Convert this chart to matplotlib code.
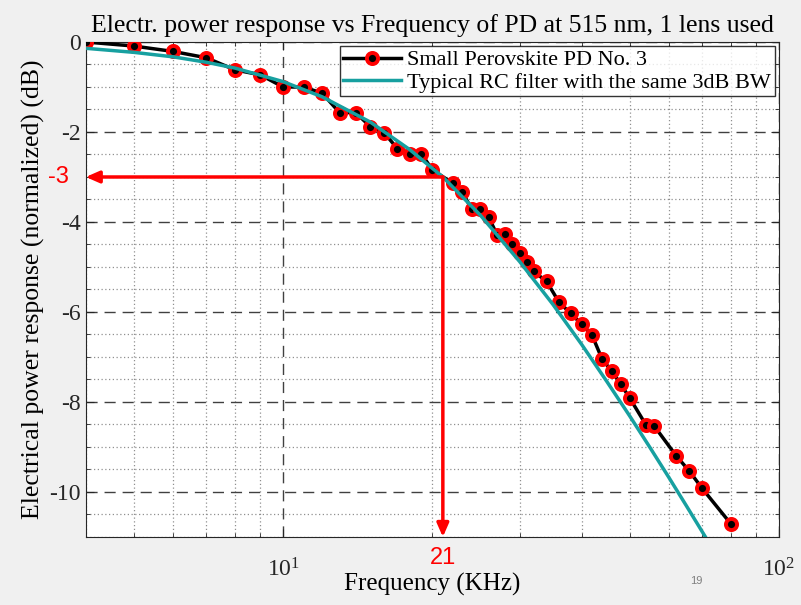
import matplotlib
matplotlib.use("Agg")
import matplotlib.pyplot as plt
from matplotlib.ticker import FixedLocator, NullFormatter, LogLocator

plt.rcParams['font.family'] = ['Liberation Serif', 'DejaVu Serif']
plt.rcParams['mathtext.fontset'] = 'custom'
plt.rcParams['mathtext.rm'] = 'Liberation Serif'
plt.rcParams['mathtext.it'] = 'Liberation Serif:italic'
plt.rcParams['axes.unicode_minus'] = False

# measured response of the PD
freq = [4, 5, 6, 7, 8, 9, 10, 11, 12, 13, 14, 15, 16, 17, 18, 19, 20,
        22, 23, 24, 25, 26, 27, 28, 29, 30, 31, 32, 34, 36, 38, 40, 42,
        44, 46, 48, 50, 54, 56, 62, 66, 70, 80]
resp = [0, -0.09, -0.21, -0.35, -0.62, -0.73, -1.0, -1.0, -1.14, -1.57,
        -1.57, -1.88, -2.02, -2.37, -2.50, -2.48, -2.84, -3.14, -3.34,
        -3.71, -3.71, -3.90, -4.28, -4.27, -4.48, -4.68, -4.90, -5.10,
        -5.32, -5.78, -6.03, -6.27, -6.52, -7.05, -7.31, -7.61, -7.91,
        -8.52, -8.53, -9.19, -9.54, -9.92, -10.71]

# RC filter curve
rc_freq = [4, 5, 6, 7, 8, 10, 12, 15, 18, 21, 25, 30, 35, 40, 45, 50,
           55, 60, 65, 70, 72]
rc_resp = [-0.14, -0.23, -0.33, -0.45, -0.58, -0.88, -1.22, -1.78, -2.39,
           -3.0, -3.85, -4.88, -5.83, -6.72, -7.55, -8.31, -9.02, -9.68,
           -10.3, -10.88, -11.1]

bw_freq = 21
bw_db = -3

title = "Electr. power response vs Frequency of PD at 515 nm, 1 lens used"
labels = ["Small Perovskite PD No. 3", "Typical RC filter with the same 3dB BW"]

fig = plt.figure(figsize=(8.01, 6.05), dpi=100, facecolor='#f0f0f0')
ax = fig.add_axes([0.107, 0.1124, 0.8655, 0.8182])

ax.plot(freq, resp, color='black', lw=2.5, marker='o', ms=8,
        mfc='black', mec='red', mew=2.8, label=labels[0], zorder=4)
ax.plot(rc_freq, rc_resp, color='#17a0a0', lw=2.5, label=labels[1], zorder=5)

ax.set_xscale('log')
ax.set_xlim(4, 100)
ax.set_ylim(-11, 0)

ax.yaxis.set_major_locator(FixedLocator([0, -2, -4, -6, -8, -10]))
ax.yaxis.set_minor_locator(FixedLocator([-0.5 * i for i in range(23)]))
ax.xaxis.set_major_locator(LogLocator(base=10))
ax.xaxis.set_minor_locator(LogLocator(base=10, subs=range(2, 10)))
ax.xaxis.set_minor_formatter(NullFormatter())

ax.grid(which='major', linestyle=(0, (8, 5)), color='#404040', lw=1)
ax.grid(which='minor', linestyle=(0, (1, 2)), color='#909090', lw=0.9)
ax.set_axisbelow(True)

ax.tick_params(which='both', direction='in', top=True, right=True,
               colors='#262626', labelsize=17)
ax.tick_params(axis='x', which='major', pad=15)
ax.tick_params(which='major', length=6)
ax.tick_params(which='minor', length=3)
for s in ax.spines.values():
    s.set_color('#262626')

ax.set_title(title, fontsize=18.5, pad=7)
ax.set_xlabel("Frequency (KHz)", fontsize=18)
ax.xaxis.set_label_coords(0.5, -0.072)
ax.set_ylabel("Electrical power response (normalized) (dB)", fontsize=18.5,
              labelpad=3)

leg = ax.legend(loc='upper right', fontsize=16, frameon=True, fancybox=False,
                borderaxespad=0.2, handlelength=2.6, borderpad=0.15,
                labelspacing=0.1, handletextpad=0.3)
leg.get_frame().set_edgecolor('black')
leg.get_frame().set_linewidth(1)

arrow = dict(arrowstyle='-|>,head_length=0.8,head_width=0.35', color='red',
             lw=2.5, shrinkA=0, shrinkB=0)
ax.annotate('', xy=(4, bw_db), xytext=(bw_freq, bw_db), arrowprops=arrow,
            zorder=6)
ax.annotate('', xy=(bw_freq, -11), xytext=(bw_freq, bw_db), arrowprops=arrow,
            zorder=6)

ax.text(-0.025, bw_db, str(bw_db), transform=ax.get_yaxis_transform(),
        color='red', fontsize=17, family='Liberation Sans', ha='right',
        va='center')
ax.text(bw_freq, -0.02, str(bw_freq), transform=ax.get_xaxis_transform(),
        color='red', fontsize=17, family='Liberation Sans', ha='center',
        va='top')

fig.text(0.862, 0.035, "19", color='#808080', fontsize=8,
         family='Liberation Sans')

fig.savefig('out.png', dpi=100, facecolor=fig.get_facecolor())
